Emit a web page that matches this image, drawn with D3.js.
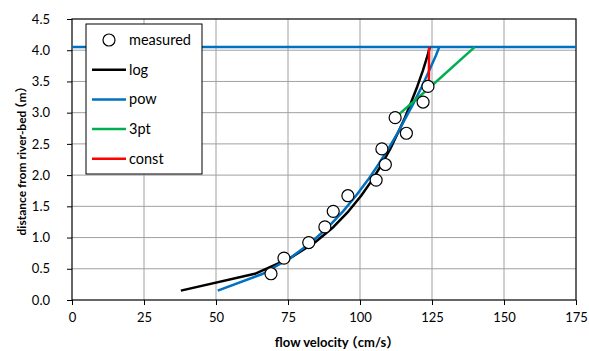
<!DOCTYPE html>
<html>
<head>
<meta charset="utf-8">
<script src="https://cdn.jsdelivr.net/npm/d3@7"></script>
<style>
    body { margin: 0; background: #fff; }
    svg text { font-family: Lato, "Noto Sans", "Noto Sans CJK JP", sans-serif; }
</style>
</head>
<body>
<div id="chart"></div>
<script>
// measured profile
var measuredZ = [0.42, 0.67, 0.92, 1.17, 1.42, 1.67, 1.92, 2.17, 2.42, 2.67, 2.92, 3.17, 3.42];
var measuredU = [69.1, 73.6, 82.2, 87.8, 90.7, 95.8, 105.6, 108.8, 107.6, 116.1, 112.2, 121.9, 123.6];

// fitted profiles
var fitZ = [0.15, 0.42, 0.67, 0.92, 1.17, 1.42, 1.67, 1.92, 2.17, 2.42, 2.67, 2.92, 3.17, 3.42, 3.67, 3.92, 4.05];
var logU = [37.8, 63.5, 75.7, 84.3, 90.8, 96.0, 100.4, 104.2, 107.5, 110.5, 113.1, 115.6, 117.8, 119.9, 121.8, 123.5, 124.2];
var powU = [50.6, 66.3, 75.7, 83.0, 89.0, 94.1, 98.6, 102.7, 106.4, 109.8, 113.0, 115.9, 118.8, 121.5, 124.0, 126.4, 127.5];

var threePtZ = [2.92, 3.42, 4.05];
var threePtU = [112.2, 124.6, 139.8];

var constZ = [3.42, 4.05];
var constU = [123.9, 124.0];

// water surface
var surfaceZ = [4.05, 4.05];
var surfaceU = [0, 175];

var xTicks = [0, 25, 50, 75, 100, 125, 150, 175];
var yTicks = [0, 0.5, 1, 1.5, 2, 2.5, 3, 3.5, 4, 4.5];

var legendNames = ["measured", "log", "pow", "3pt", "const"];
var legendColors = [null, "#000000", "#0070c0", "#00b050", "#ff0000"];

var width = 589, height = 351;
var plotLeft = 72, plotRight = 576, plotTop = 19, plotBottom = 300;

var svg = d3.select("#chart").append("svg")
    .attr("width", width)
    .attr("height", height);

var x = d3.scaleLinear().domain([0, 175]).range([plotLeft, plotRight]);
var y = d3.scaleLinear().domain([0, 4.5]).range([plotBottom, plotTop]);

function zip(us, zs) {
    return us.map(function(u, i) { return [u, zs[i]]; });
}

// grid
svg.append("g")
    .selectAll("line")
    .data(xTicks.slice(1, -1))
    .enter().append("line")
    .attr("x1", function(d) { return x(d); })
    .attr("x2", function(d) { return x(d); })
    .attr("y1", plotTop).attr("y2", plotBottom)
    .style("stroke", "#a0a0a0").style("stroke-width", 1);
svg.append("g")
    .selectAll("line")
    .data(yTicks.slice(1, -1))
    .enter().append("line")
    .attr("y1", function(d) { return y(d); })
    .attr("y2", function(d) { return y(d); })
    .attr("x1", plotLeft).attr("x2", plotRight)
    .style("stroke", "#a0a0a0").style("stroke-width", 1);

// axes
var xAxis = svg.append("g")
    .attr("transform", "translate(0," + plotBottom + ")")
    .call(d3.axisBottom(x).tickValues(xTicks).tickSize(5).tickPadding(8).tickFormat(d3.format("d")));
var yAxis = svg.append("g")
    .attr("transform", "translate(" + plotLeft + ",0)")
    .call(d3.axisLeft(y).tickValues(yTicks).tickSize(5).tickPadding(17).tickFormat(d3.format(".1f")));
[xAxis, yAxis].forEach(function(a) {
    a.select(".domain").remove();
    a.selectAll("line").style("stroke", "#000");
    a.selectAll("text").style("font-size", "13px").style("fill", "#000");
});

// plot border
svg.append("rect")
    .attr("x", plotLeft).attr("y", plotTop)
    .attr("width", plotRight - plotLeft).attr("height", plotBottom - plotTop)
    .style("fill", "none").style("stroke", "#000").style("stroke-width", 1.2);

var line = d3.line()
    .x(function(d) { return x(d[0]); })
    .y(function(d) { return y(d[1]); });

var series = [
    { pts: zip(surfaceU, surfaceZ), color: "#0070c0" },
    { pts: zip(logU, fitZ), color: "#000000" },
    { pts: zip(powU, fitZ), color: "#0070c0" },
    { pts: zip(threePtU, threePtZ), color: "#00b050" },
    { pts: zip(constU, constZ), color: "#ff0000" }
];

svg.append("g")
    .selectAll("path")
    .data(series)
    .enter().append("path")
    .attr("d", function(d) { return line(d.pts); })
    .style("fill", "none")
    .style("stroke", function(d) { return d.color; })
    .style("stroke-width", 2.5)
    .style("stroke-linejoin", "round");

svg.append("g")
    .selectAll("circle")
    .data(zip(measuredU, measuredZ))
    .enter().append("circle")
    .attr("cx", function(d) { return x(d[0]); })
    .attr("cy", function(d) { return y(d[1]); })
    .attr("r", 6)
    .style("fill", "#fff")
    .style("stroke", "#000")
    .style("stroke-width", 1.2);

// legend
var legend = svg.append("g").attr("transform", "translate(86,24)");
legend.append("rect")
    .attr("width", 116).attr("height", 150)
    .style("fill", "#fff").style("stroke", "#000").style("stroke-width", 1);

var items = legend.selectAll("g.item")
    .data(legendNames)
    .enter().append("g")
    .attr("transform", function(d, i) { return "translate(0," + (16 + i * 29.7) + ")"; });

items.each(function(d, i) {
    var g = d3.select(this);
    if (legendColors[i]) {
        g.append("line")
            .attr("x1", 6).attr("x2", 40)
            .style("stroke", legendColors[i]).style("stroke-width", 2.5);
    } else {
        g.append("circle")
            .attr("cx", 23).attr("r", 6)
            .style("fill", "#fff").style("stroke", "#000").style("stroke-width", 1.2);
    }
    g.append("text")
        .attr("x", 43).attr("dy", "0.35em")
        .style("font-size", "14.5px")
        .text(d);
});

// axis titles (full-width parens pulled in a bit)
var xTitle = svg.append("text")
    .attr("x", 337).attr("y", 347)
    .attr("text-anchor", "middle")
    .style("font-size", "13px").style("font-weight", "bold");
xTitle.append("tspan").text("flow velocity");
xTitle.append("tspan").attr("dx", -4).text("（cm/s）");

var yTitle = svg.append("text")
    .attr("transform", "translate(26,158) rotate(-90)")
    .attr("text-anchor", "middle")
    .style("font-size", "12px").style("font-weight", "bold");
yTitle.append("tspan").text("distance from river-bed");
yTitle.append("tspan").attr("dx", -4).text("（m）");
</script>
</body>
</html>
